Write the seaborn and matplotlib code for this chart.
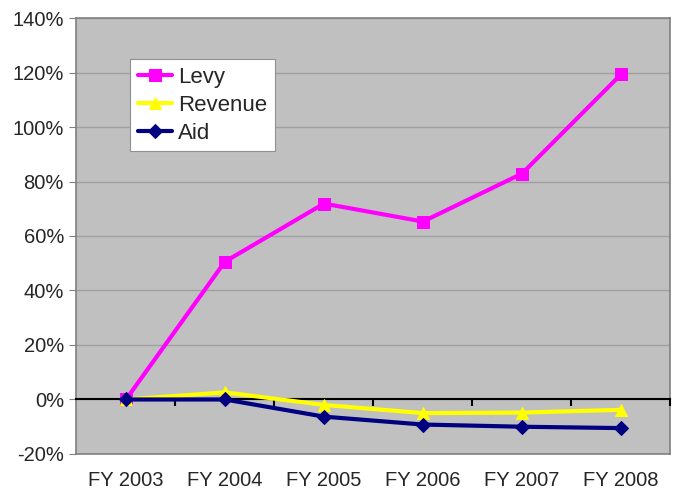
import pandas as pd
import matplotlib.pyplot as plt
import seaborn as sns

YEARS = ["FY 2003", "FY 2004", "FY 2005", "FY 2006", "FY 2007", "FY 2008"]
LEVY = [0.0, 50.6, 71.9, 65.3, 82.9, 119.3]
REVENUE = [0.0, 2.6, -2.0, -5.0, -4.8, -3.8]
AID = [0.0, 0.0, -6.3, -9.2, -10.0, -10.5]

SERIES = {"Levy": LEVY, "Revenue": REVENUE, "Aid": AID}
COLORS = {"Levy": "#FF00FF", "Revenue": "#FFFF00", "Aid": "#000080"}
MARKERS = {"Levy": "s", "Revenue": "^", "Aid": "D"}
SIZES = {"Levy": 8, "Revenue": 9, "Aid": 7}

rows = []
for name, vals in SERIES.items():
    for i, v in enumerate(vals):
        rows.append({"Year": YEARS[i], "x": i, "Series": name, "Value": v})
df = pd.DataFrame(rows)

sns.set_style("white")
plt.rcParams["font.family"] = ["Liberation Sans", "DejaVu Sans"]

fig = plt.figure(figsize=(6.75, 4.91), dpi=100)
ax = fig.add_axes([0.1133, 0.0754, 0.88, 0.8879])
ax.set_facecolor("#C0C0C0")

ax.set_xlim(-0.5, len(YEARS) - 0.5)
ax.set_ylim(-20, 140)
ax.set_yticks(range(-20, 141, 20))
ax.set_yticklabels([f"{t}%" for t in range(-20, 141, 20)], fontsize=14.5)
ax.set_xticks(range(len(YEARS)))
ax.set_xticklabels(YEARS, fontsize=14.5)
ax.tick_params(axis="x", length=0, pad=12)
ax.tick_params(axis="y", length=5, color="#808080", direction="out", left=True, pad=4)
ax.yaxis.grid(True, color="#A0A0A0", linewidth=1)
ax.set_axisbelow(True)
for sp in ax.spines.values():
    sp.set_color("#808080")
    sp.set_linewidth(1.2)

# category axis crossing at zero, series drawn on top of it
ax2 = ax.twiny()
ax2.set_xlim(ax.get_xlim())
ax2.patch.set_visible(False)
ax2.spines["bottom"].set_position(("data", 0))
for s in ["top", "left", "right"]:
    ax2.spines[s].set_visible(False)
ax2.spines["bottom"].set_color("black")
ax2.spines["bottom"].set_linewidth(1.5)
ax2.xaxis.set_ticks_position("bottom")
ax2.set_xticks([i + 0.5 for i in range(len(YEARS))])
ax2.set_xticklabels([])
ax2.tick_params(axis="x", length=5, width=1.5, color="black", direction="out")

for name in SERIES:
    sub = df[df["Series"] == name]
    sns.lineplot(data=sub, x="x", y="Value", color=COLORS[name], marker=MARKERS[name],
                 markersize=SIZES[name], markeredgecolor=COLORS[name], linewidth=3,
                 label=name, ax=ax2, zorder=3)
ax2.set_xlabel("")
ax2.set_ylabel("")
ax2.set_xlim(-0.5, len(YEARS) - 0.5)

leg = ax2.legend(loc="upper left", bbox_to_anchor=(0.09, 0.905), fontsize=16,
                 frameon=True, fancybox=False, edgecolor="#909090", framealpha=1,
                 borderpad=0.35, labelspacing=0.3, handlelength=1.55, handletextpad=0.25,
                 borderaxespad=0)
leg.get_frame().set_linewidth(0.8)

fig.savefig("out.png", dpi=100)
